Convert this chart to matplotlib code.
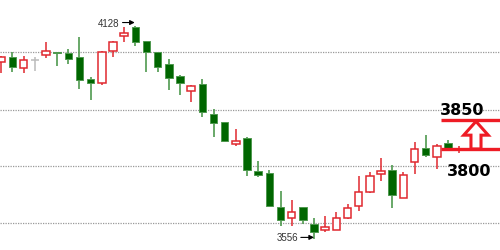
import matplotlib
matplotlib.use("Agg")
import matplotlib.pyplot as plt
from matplotlib.patches import Polygon

# candle data (red hollow = up, green filled = down)
opens = [4030.8, 4044.3, 4014.7, 4036.2, 4049.7, 4057.7, 4055.0, 4044.3, 3985.1, 3974.3,
         4060.4, 4100.8, 4124.0, 4087.0, 4057.0, 4025.4, 3993.2, 3952.8, 3971.6, 3890.9,
         3869.0, 3810.2, 3826.4, 3737.6, 3732.2, 3640.8, 3611.2, 3640.5, 3595.0, 3578.9,
         3578.9, 3611.2, 3643.5, 3681.1, 3729.5, 3740.3, 3665.0, 3761.8, 3799.5, 3775.3,
         3812.9, 3794.0]
highs = [4046.0, 4057.7, 4047.0, 4044.3, 4084.6, 4058.0, 4065.8, 4098.1, 3990.5, 4060.4,
         4087.3, 4125.0, 4128.0, 4087.3, 4057.7, 4038.9, 3995.9, 3969.0, 3985.1, 3904.4,
         3869.4, 3850.6, 3829.1, 3764.5, 3740.3, 3683.8, 3659.6, 3640.8, 3611.2, 3616.6,
         3627.3, 3648.8, 3724.2, 3734.9, 3772.6, 3753.8, 3734.9, 3815.6, 3834.5, 3810.2,
         3821.0, 3805.0]
lows = [4001.2, 4003.9, 4001.2, 4006.6, 4041.6, 4020.1, 4025.4, 3958.2, 3928.6, 3969.0,
        4044.3, 4084.6, 4073.9, 4003.9, 4003.9, 3955.5, 3942.1, 3923.2, 3882.9, 3829.1,
        3815.6, 3804.9, 3724.2, 3721.5, 3643.5, 3589.7, 3589.7, 3595.0, 3556.0, 3573.5,
        3578.0, 3608.5, 3630.0, 3678.4, 3710.7, 3638.1, 3665.0, 3729.5, 3775.3, 3743.0,
        3791.4, 3786.0]
closes = [4044.3, 4017.4, 4036.2, 4036.2, 4060.4, 4055.5, 4038.9, 3982.4, 3974.3, 4057.7,
          4084.6, 4108.8, 4084.6, 4057.7, 4017.4, 3987.8, 3974.3, 3966.3, 3896.3, 3866.7,
          3818.3, 3818.3, 3740.3, 3726.9, 3643.5, 3605.8, 3627.3, 3605.8, 3573.5, 3587.0,
          3611.2, 3638.1, 3681.1, 3724.2, 3737.6, 3673.1, 3726.9, 3796.8, 3780.7, 3804.9,
          3796.8, 3797.0]

grid_levels = [4057, 3903, 3750, 3597]
high_label = "4128"
low_label = "3556"
support_level = 3797
target_level = 3876
support_text = "3800"
target_text = "3850"

UP = "#e0282f"
DOWN_FILL = "#006600"
DOWN_LINE = "#4f994f"
DOJI = "#bbbbbb"

fig = plt.figure(figsize=(5.0, 2.51), dpi=100)
ax = fig.add_axes([0, 0, 1, 1])

for lvl in grid_levels:
    ax.axhline(lvl, color="#999999", lw=0.9, ls=(0, (1, 1)), zorder=0)

w = 0.67
for i, (o, h, l, c) in enumerate(zip(opens, highs, lows, closes)):
    if c > o:
        ax.vlines(i, l, h, color=UP, lw=1.1, zorder=2)
        ax.bar(i, c - o, w, bottom=o, facecolor="white", edgecolor=UP, lw=1.1, zorder=3)
    elif c < o:
        ax.vlines(i, l, h, color=DOWN_LINE, lw=1.2, zorder=2)
        ax.bar(i, o - c, w, bottom=c, facecolor=DOWN_FILL, edgecolor=DOWN_LINE, lw=0.7, zorder=3)
    else:
        ax.vlines(i, l, h, color=DOJI, lw=1.1, zorder=2)
        ax.hlines(o, i - w / 2, i + w / 2, color=DOJI, lw=1.1, zorder=3)

# high / low markers
hi_idx = highs.index(max(highs))
lo_idx = lows.index(min(lows))
arrow = dict(arrowstyle="-|>", color="black", lw=0.8, mutation_scale=7, shrinkA=0, shrinkB=0)
ax.annotate(high_label, xy=(hi_idx - 0.05, max(highs) + 9), xytext=(-15, 0),
            textcoords="offset pixels", ha="right", va="center", fontsize=7,
            color="#333333", family="Liberation Sans", arrowprops=arrow)
ax.annotate(low_label, xy=(lo_idx, min(lows) + 3), xytext=(-16, 0),
            textcoords="offset pixels", ha="right", va="center", fontsize=7,
            color="#333333", family="Liberation Sans", arrowprops=arrow)

# target annotation
x0, x1 = 39.4, 44.8
ax.plot([x0, x1], [target_level, target_level], color="#ee1c25", lw=2.4, solid_capstyle="butt", zorder=5)
ax.plot([x0, x1], [support_level, support_level], color="#ee1c25", lw=2.4, solid_capstyle="butt", zorder=5)
xc = 42.5
tip = target_level - 5
base = target_level - 42
pts = [(xc, tip), (xc + 1.1, base), (xc + 0.45, base), (xc + 0.45, support_level),
       (xc - 0.45, support_level), (xc - 0.45, base), (xc - 1.1, base)]
ax.add_patch(Polygon(pts, closed=True, facecolor="white", edgecolor="#ee1c25", lw=2.2,
                     joinstyle="miter", zorder=6))
ax.text(41.3, target_level + 27, target_text, fontsize=11.5, fontweight="bold",
        ha="center", va="center", color="black", zorder=7)
ax.text(41.9, support_level - 57, support_text, fontsize=11.5, fontweight="bold",
        ha="center", va="center", color="black", zorder=7)

ax.set_xlim(-0.116, 44.65)
ax.set_ylim(3525.1, 4200.3)
ax.axis("off")

fig.savefig("out.png", dpi=100, facecolor="white")
